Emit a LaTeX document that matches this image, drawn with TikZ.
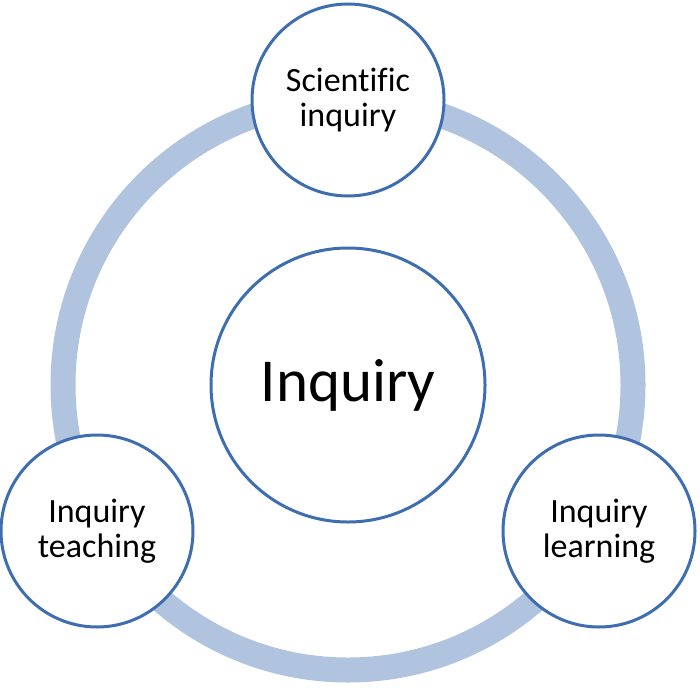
\documentclass[tikz,border=0pt]{standalone}
\usepackage{fontspec}
\setmainfont{Carlito}[Ligatures=NoCommon]
\definecolor{ringblue}{HTML}{B0C3DF}
\definecolor{edgeblue}{HTML}{3F6EB0}
\begin{document}
\begin{tikzpicture}[x=1pt,y=-1pt,
  bubble/.style={circle,draw=edgeblue,line width=3pt,fill=white,align=center,inner sep=0pt,
    font=\fontsize{34}{35}\selectfont},
  ringpath/.style={draw=ringblue,line width=25pt}]
\useasboundingbox (0,0) rectangle (700,687);
\coordinate (hub) at (348,385);
\draw[ringpath] (hub) circle (285);
\node[bubble,minimum size=192pt] (sci) at (348,100) {Scientific\\inquiry};
\node[bubble,minimum size=192pt] (teach) at (97,531) {Inquiry\\teaching};
\node[bubble,minimum size=192pt] (learn) at (599,531) {Inquiry\\learning};
\node[bubble,minimum size=274pt,font=\fontsize{61}{61}\selectfont] (inq) at (hub) {Inquiry};
\end{tikzpicture}
\end{document}
